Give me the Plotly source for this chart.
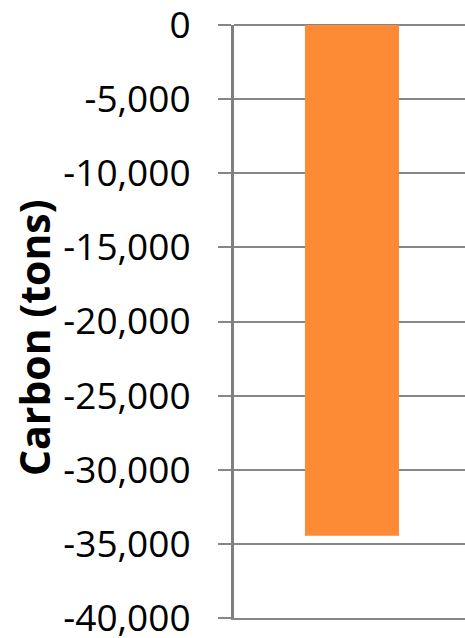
import plotly.graph_objects as go

# Net carbon change, tons
categories = ["Net change"]
carbon_tons = [-34450]

y_ticks = [0, -5000, -10000, -15000, -20000, -25000, -30000, -35000, -40000]
y_tick_labels = ["0", "-5,000", "-10,000", "-15,000", "-20,000",
                 "-25,000", "-30,000", "-35,000", "-40,000"]
y_title = "<b>Carbon (tons)</b>"

GRID = "#868686"

fig = go.Figure(
    go.Bar(
        x=[0],
        y=carbon_tons,
        width=0.4,
        marker=dict(color="#FD8A35", line=dict(width=0)),
        hovertext=categories,
    )
)

fig.update_layout(
    width=465,
    height=638,
    margin=dict(l=234, r=0, t=25, b=20),
    paper_bgcolor="white",
    plot_bgcolor="white",
    showlegend=False,
    font=dict(family="Open Sans", color="black"),
)

# bottom edge line doubles as the -40,000 gridline
fig.update_xaxes(
    range=[-0.502, 0.481],
    showticklabels=False,
    showgrid=False,
    zeroline=False,
    showline=True,
    linecolor=GRID,
    linewidth=2,
    ticks="",
)

fig.update_yaxes(
    range=[-40000, 0],
    tickvals=y_ticks,
    ticktext=y_tick_labels,
    tickfont=dict(family="Open Sans", size=37, color="black"),
    ticklabeloverflow="allow",
    ticks="outside",
    ticklen=13,
    tickwidth=2,
    tickcolor=GRID,
    ticklabelstandoff=20,
    showgrid=True,
    gridcolor=GRID,
    gridwidth=2,
    zeroline=True,
    zerolinecolor=GRID,
    zerolinewidth=2,
    showline=True,
    linecolor="#7f7f7f",
    linewidth=3,
    automargin=False,
)

# vertical axis title, placed left of the tick labels
fig.add_annotation(
    text=y_title,
    textangle=-90,
    xref="paper",
    yref="paper",
    x=0,
    y=0.472,
    xshift=-200,
    xanchor="center",
    yanchor="middle",
    showarrow=False,
    font=dict(family="Open Sans", size=41, color="black"),
)

fig.write_html("out.html")
